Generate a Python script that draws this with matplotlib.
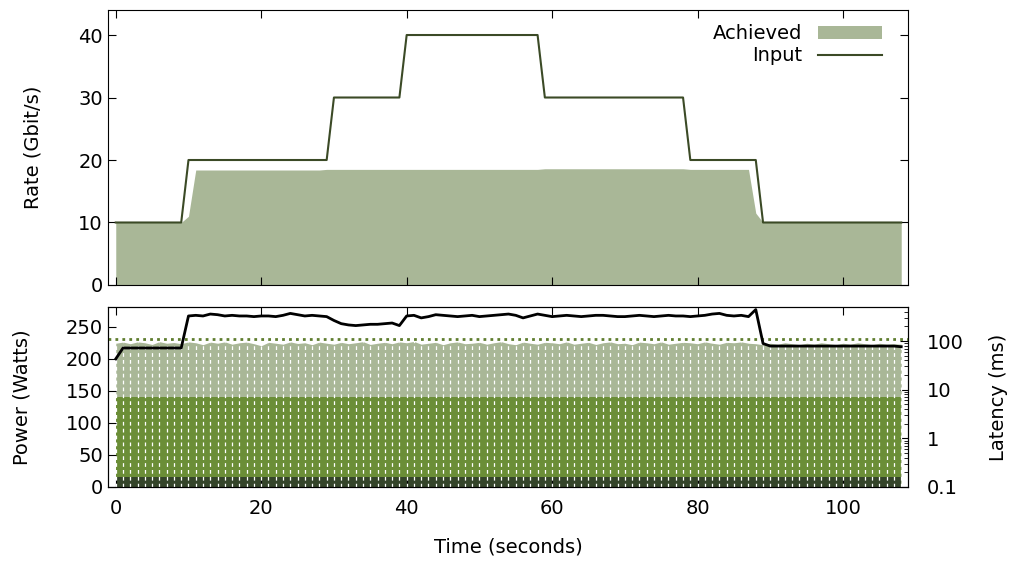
import numpy as np
import matplotlib.pyplot as plt

plt.rcParams['font.family'] = 'DejaVu Sans'
plt.rcParams['font.size'] = 14

# time axis (seconds)
t = np.arange(0, 109)

# offered input rate and achieved rate (Gbit/s)
rate_input = [10]*10 + [20]*20 + [30]*10 + [40]*19 + [30]*20 + [20]*10 + [10]*20
rate_achieved = ([10]*10 + [11] + [18.4]*18 + [18.5]*30 + [18.6]*20 + [18.5]*9
                 + [11.5] + [10]*20)

# power draw (Watts)
power = [200, 217, 217, 217, 217, 217, 217, 217, 217, 217,
         267, 268, 267, 270, 269, 267, 268, 267, 267, 266,
         267, 267, 266, 268, 271, 269, 267, 268, 267, 266,
         260, 255, 253, 252, 253, 254, 254, 255, 256, 252,
         267, 268, 264, 266, 269, 268, 267, 266, 267, 268,
         266, 267, 268, 269, 270, 268, 264, 267, 270, 268,
         266, 267, 268, 267, 266, 267, 268, 268, 267, 266,
         266, 267, 268, 267, 266, 267, 268, 267, 267, 266,
         267, 268, 270, 271, 268, 267, 268, 266, 277, 224,
         220, 220, 220, 220, 220, 220, 220, 220, 220, 220,
         220, 220, 220, 220, 220, 220, 220, 220, 219]

power_budget = 231

# latency percentiles (ms)
lat_max = [90, 95, 88, 96, 92, 85, 97, 90, 93, 88,
           96, 92, 84, 95, 90, 96, 86, 92, 95, 88,
           80, 94, 90, 86, 96, 89, 92, 84, 95, 90,
           86, 94, 88, 92, 97, 85, 90, 94, 88, 96,
           92, 98, 86, 90, 94, 84, 92, 96, 88, 90,
           94, 86, 92, 97, 88, 84, 95, 90, 86, 94,
           92, 88, 96, 86, 90, 94, 85, 92, 96, 88,
           90, 84, 95, 92, 88, 96, 86, 90, 94, 92,
           88, 96, 90, 86, 94, 92, 96, 90, 88, 84,
           90, 86, 92, 88, 84, 90, 86, 92, 88, 84,
           90, 86, 92, 88, 84, 90, 86, 88, 86]
lat_med = [7.0]*109
lat_min = [0.16]*109

c_light = '#a9b797'
c_mid = '#6b8e37'
c_dark = '#35452a'
c_line = '#3b4a26'

fig = plt.figure(figsize=(10.11, 5.63), dpi=100)
ax1 = fig.add_axes([0.1073, 0.4938, 0.7906, 0.4884])
ax2 = fig.add_axes([0.1073, 0.135, 0.7906, 0.3197])

# top panel: rates
ax1.fill_between(t, 0, rate_achieved, color=c_light, lw=0, label='Achieved')
ax1.plot(t, rate_input, color=c_line, lw=1.5, label='Input')
ax1.set_xlim(-1, 108.9)
ax1.set_ylim(0, 44)
ax1.set_yticks([0, 10, 20, 30, 40])
ax1.set_xticks([0, 20, 40, 60, 80, 100])
ax1.set_xticklabels([])
ax1.set_ylabel('Rate (Gbit/s)', labelpad=26)
ax1.tick_params(direction='in', top=True, right=True, length=6, pad=4)
leg = ax1.legend(loc='upper right', bbox_to_anchor=(0.982, 0.99), frameon=False,
                 markerfirst=False, handlelength=3.3, handletextpad=0.8,
                 labelspacing=0.15, borderaxespad=0.2)

# bottom panel: latency (log, right) and power (left)
ax3 = ax2.twinx()

ax2.set_yscale('log')
ax2.fill_between(t, 0.1, lat_max, color=c_light, lw=0)
ax2.fill_between(t, 0.1, lat_med, color=c_mid, lw=0)
ax2.fill_between(t, 0.1, lat_min, color=c_dark, lw=0)
ax2.vlines(t, 0.1, lat_max, colors='white', linestyles=(0, (3, 2.5)), lw=0.9)
ax2.set_ylim(0.1, 500)
ax2.set_xlim(-1, 108.9)
ax2.yaxis.tick_right()
ax2.yaxis.set_label_position('right')
ax2.set_yticks([0.1, 1, 10, 100])
ax2.set_yticklabels(['0.1', '1', '10', '100'])
ax2.set_ylabel('Latency (ms)', labelpad=18)
ax2.tick_params(axis='y', which='both', direction='in', left=False, right=True,
                labelleft=False, labelright=True, pad=14)
ax2.tick_params(axis='y', which='major', length=6)
ax2.tick_params(axis='y', which='minor', length=3)
ax2.set_xticks([0, 20, 40, 60, 80, 100])
ax2.tick_params(axis='x', direction='in', top=True, length=6, pad=9)
ax2.set_xlabel('Time (seconds)', labelpad=14)

ax3.yaxis.tick_left()
ax3.yaxis.set_label_position('left')
ax3.axhline(power_budget, color='#5f7d2f', lw=2, ls=(0, (1, 1.5)))
ax3.plot(t, power, color='black', lw=2)
ax3.set_xlim(-1, 108.9)
ax3.set_ylim(0, 281)
ax3.set_yticks([0, 50, 100, 150, 200, 250])
ax3.set_ylabel('Power (Watts)', labelpad=25)
ax3.tick_params(axis='y', direction='in', left=True, right=False,
                labelleft=True, labelright=False, length=6, pad=4)

fig.savefig('out.png', dpi=100)
